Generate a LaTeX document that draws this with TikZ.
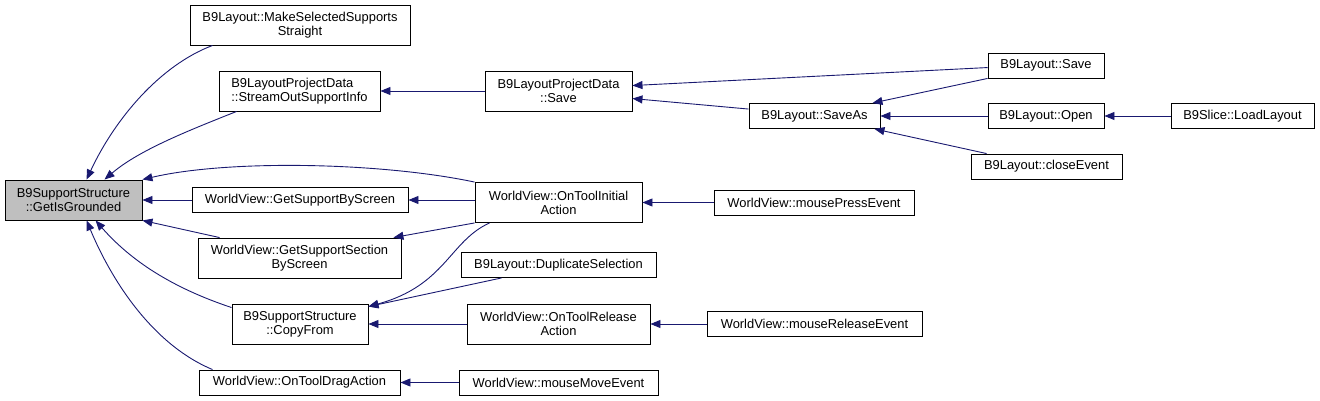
\documentclass[tikz,border=0pt]{standalone}
\usepackage{fontspec}
\setmainfont{Liberation Sans}
\usetikzlibrary{arrows.meta}

\definecolor{edgeblue}{HTML}{191970}
\definecolor{focusgray}{HTML}{BFBFBF}

\tikzset{fn/.style={draw=black, fill=white, line width=0.9pt, font=\fontsize{12.9}{14}\selectfont, align=center, inner sep=0pt, minimum height=25pt},
         fn2/.style={fn, minimum height=40pt},
         call/.style={draw=edgeblue, line width=0.9pt, -{Triangle[length=10pt,width=8pt]}}}

\begin{document}
\begin{tikzpicture}[x=1pt, y=-1pt]
  \useasboundingbox (0,0) rectangle (1320,401);
  % rank 0
  \node[fn2, fill=focusgray, minimum width=137pt] (gig) at (73.5,200) {B9SupportStructure\\::GetIsGrounded};
  % rank 1
  \node[fn2, minimum width=220pt] (mss)  at (300,25)    {B9Layout::MakeSelectedSupports\\Straight};
  \node[fn2, align=left, minimum width=161pt] (sos) at (299.5,91) {B9LayoutProjectData\\::StreamOutSupportInfo};
  \node[fn,  minimum width=216pt] (gsbs) at (300,200)   {WorldView::GetSupportByScreen};
  \node[fn2, minimum width=203pt] (gsss) at (299.5,258) {WorldView::GetSupportSection\\ByScreen};
  \node[fn2, minimum width=136pt] (cf)   at (300,324)   {B9SupportStructure\\::CopyFrom};
  \node[fn,  minimum width=201pt] (otda) at (299.5,382.5) {WorldView::OnToolDragAction};
  % rank 2
  \node[fn2, minimum width=147pt] (pds)  at (558.5,91)  {B9LayoutProjectData\\::Save};
  \node[fn2, minimum width=167pt] (otia) at (558.5,202.5) {WorldView::OnToolInitial\\Action};
  \node[fn,  minimum width=195pt] (dup)  at (558.5,265) {B9Layout::DuplicateSelection};
  \node[fn2, minimum width=183pt] (otra) at (558.5,324) {WorldView::OnToolRelease\\Action};
  \node[fn,  minimum width=199pt] (mme)  at (558.5,382.5) {WorldView::mouseMoveEvent};
  % rank 3
  \node[fn,  minimum width=131pt] (sa)   at (814.5,116) {B9Layout::SaveAs};
  \node[fn,  minimum width=200pt] (mpe)  at (814,202.5) {WorldView::mousePressEvent};
  \node[fn,  minimum width=215pt] (mre)  at (814.5,324) {WorldView::mouseReleaseEvent};
  % rank 4 and 5
  \node[fn,  minimum width=116pt] (ls)   at (1046,65.5)  {B9Layout::Save};
  \node[fn,  minimum width=116pt] (lo)   at (1046,116)   {B9Layout::Open};
  \node[fn,  minimum width=151pt] (ce)   at (1046.5,166.5) {B9Layout::closeEvent};
  \node[fn,  minimum width=143pt] (ll)   at (1242.5,116) {B9Slice::LoadLayout};

  % callers of GetIsGrounded
  \draw[call] ([xshift=23pt]mss.south west) .. controls +(-53,20) and +(28,-60) .. ([xshift=82pt]gig.north west);
  \draw[call] ([xshift=18pt]sos.south west) .. controls +(-45,18) and +(35,-30) .. ([xshift=100pt]gig.north west);
  \draw[call] (otia.north west) .. controls +(-95,-20) and +(85,-20) .. (gig.north east);
  \draw[call] (gsbs.west) -- (gig.east);
  \draw[call] ([xshift=22pt]gsss.north west) -- (gig.south east);
  \draw[call] ([yshift=-4pt]cf.north west) .. controls +(-60,-20) and +(35,40) .. ([xshift=91pt]gig.south west);
  \draw[call] ([xshift=14pt]otda.north west) .. controls +(-60,-25) and +(25,60) .. ([xshift=82pt]gig.south west);
  % further up the chain
  \draw[call] (pds.west) -- (sos.east);
  \draw[call] ([yshift=-15pt]ls.north west) -- ([yshift=-15pt]pds.north east);
  \draw[call] ([yshift=-6pt]sa.north west) -- ([yshift=-28pt]pds.north east);
  \draw[call] (ls.south west) -- ([xshift=-8pt]sa.north east);
  \draw[call] (lo.west) -- (sa.east);
  \draw[call] ([xshift=16pt]ce.north west) -- ([xshift=-6pt]sa.south east);
  \draw[call] (ll.west) -- (lo.east);
  \draw[call] (otia.west |- gsbs.east) -- (gsbs.east);
  \draw[call] (otia.south west) -- ([xshift=-8pt]gsss.north east);
  \draw[call] ([xshift=15pt]otia.south west) .. controls +(-40,18) and +(77,-21) .. ([yshift=-3pt]cf.north east);
  \draw[call] (mpe.west) -- (otia.east);
  \draw[call] ([xshift=41pt]dup.south west) -- ([yshift=-3pt]cf.north east);
  \draw[call] (otra.west) -- (cf.east);
  \draw[call] (mre.west) -- (otra.east);
  \draw[call] (mme.west) -- (otda.east);
\end{tikzpicture}
\end{document}
